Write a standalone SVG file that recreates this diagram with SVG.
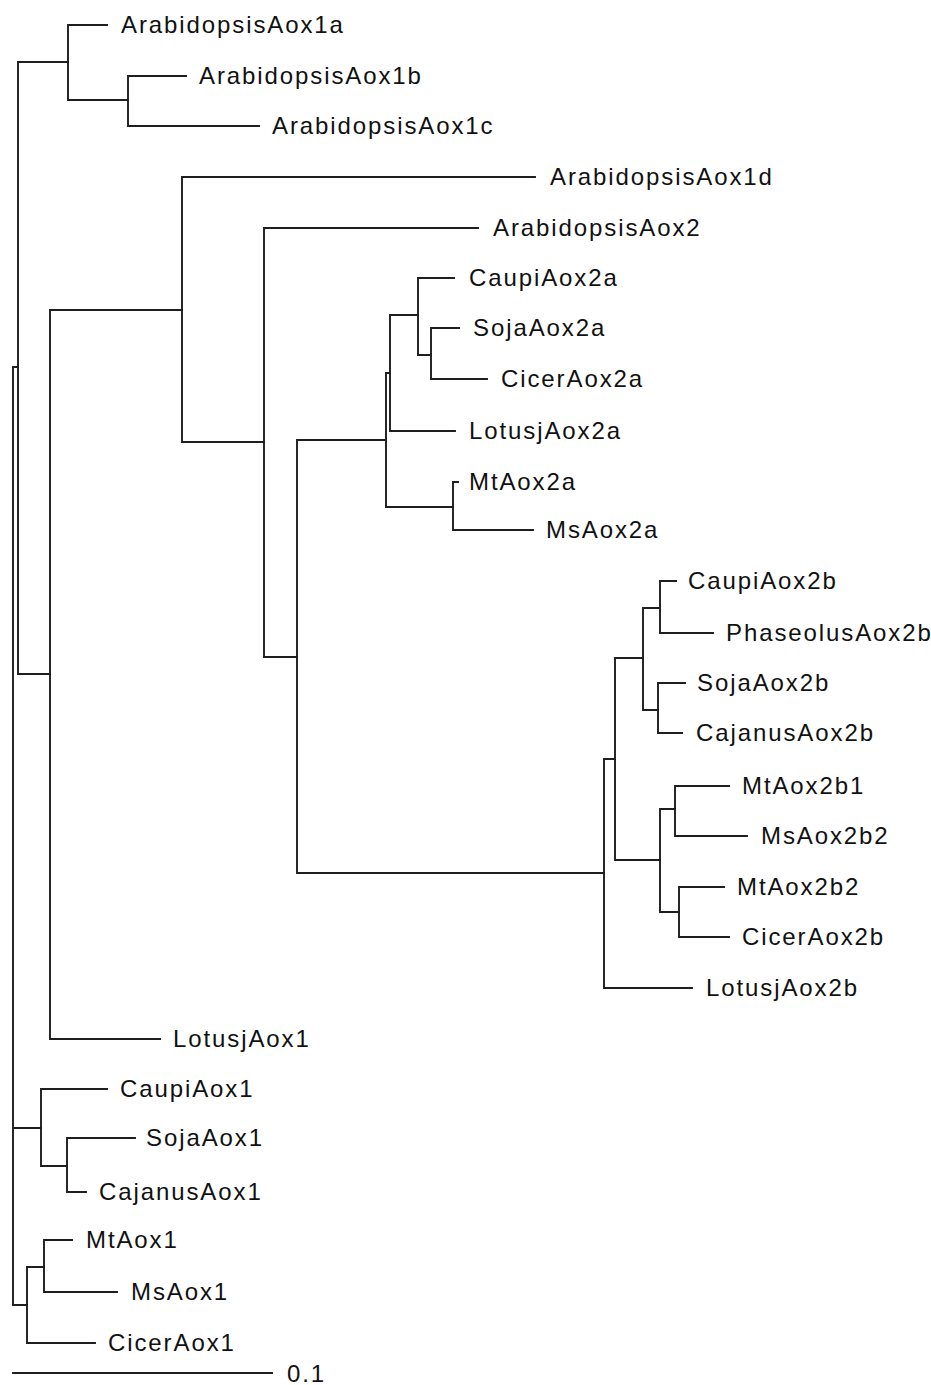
<svg xmlns="http://www.w3.org/2000/svg" width="931" height="1385" viewBox="0 0 931 1385">
<style>
.br{fill:none;stroke:#1e1e1e;stroke-width:1.9;stroke-linecap:square}
.lb{font-family:"Liberation Sans",Arial,sans-serif;font-size:24px;letter-spacing:1.9px;fill:#111}
</style>
<rect width="931" height="1385" fill="#fff"/>
<g id="connectors">
<path class="br" d="M13 367 V1305 M13 367 H18 M13 1128 H41 M13 1305 H27"/>
<path class="br" d="M18 62 V674 M18 62 H68 M18 674 H50"/>
<path class="br" d="M68 25 V100 M68 25 H107 M68 100 H128"/>
<path class="br" d="M128 76 V126 M128 76 H186 M128 126 H259"/>
<path class="br" d="M50 310 V1039 M50 310 H182 M50 1039 H160"/>
<path class="br" d="M182 177 V442 M182 177 H535 M182 442 H264"/>
<path class="br" d="M264 228 V657 M264 228 H478 M264 657 H297"/>
<path class="br" d="M297 440 V873 M297 440 H386 M297 873 H604"/>
<path class="br" d="M386 373 V507 M386 373 H390 M386 507 H453"/>
<path class="br" d="M390 315 V431 M390 315 H418 M390 431 H455"/>
<path class="br" d="M418 278 V355 M418 278 H454 M418 355 H431"/>
<path class="br" d="M431 328 V379 M431 328 H459 M431 379 H487"/>
<path class="br" d="M453 482 V530 M453 482 H458 M453 530 H533"/>
<path class="br" d="M604 759 V988 M604 759 H615 M604 988 H692"/>
<path class="br" d="M615 658 V860 M615 658 H643 M615 860 H660"/>
<path class="br" d="M643 608 V710 M643 608 H660 M643 710 H658"/>
<path class="br" d="M660 581 V633 M660 581 H676 M660 633 H713"/>
<path class="br" d="M658 683 V733 M658 683 H685 M658 733 H682"/>
<path class="br" d="M660 809 V912 M660 809 H675 M660 912 H679"/>
<path class="br" d="M675 786 V836 M675 786 H729 M675 836 H747"/>
<path class="br" d="M679 887 V937 M679 887 H724 M679 937 H729"/>
<path class="br" d="M41 1089 V1166 M41 1089 H107 M41 1166 H67"/>
<path class="br" d="M67 1138 V1192 M67 1138 H135 M67 1192 H86"/>
<path class="br" d="M27 1267 V1343 M27 1267 H44 M27 1343 H95"/>
<path class="br" d="M44 1240 V1292 M44 1240 H72 M44 1292 H117"/>
</g>
<g id="scale-bar">
<path class="br" d="M13 1373 H272"/>
<text class="lb" x="287" y="1382">0.1</text>
</g>
<g id="ArabidopsisAox1a"><text class="lb" x="121" y="33">ArabidopsisAox1a</text></g>
<g id="ArabidopsisAox1b"><text class="lb" x="199" y="84">ArabidopsisAox1b</text></g>
<g id="ArabidopsisAox1c"><text class="lb" x="272" y="134">ArabidopsisAox1c</text></g>
<g id="ArabidopsisAox1d"><text class="lb" x="550" y="185">ArabidopsisAox1d</text></g>
<g id="ArabidopsisAox2"><text class="lb" x="493" y="236">ArabidopsisAox2</text></g>
<g id="CaupiAox2a"><text class="lb" x="469" y="286">CaupiAox2a</text></g>
<g id="SojaAox2a"><text class="lb" x="473" y="336">SojaAox2a</text></g>
<g id="CicerAox2a"><text class="lb" x="501" y="387">CicerAox2a</text></g>
<g id="LotusjAox2a"><text class="lb" x="469" y="439">LotusjAox2a</text></g>
<g id="MtAox2a"><text class="lb" x="469" y="490">MtAox2a</text></g>
<g id="MsAox2a"><text class="lb" x="546" y="538">MsAox2a</text></g>
<g id="CaupiAox2b"><text class="lb" x="688" y="589">CaupiAox2b</text></g>
<g id="PhaseolusAox2b"><text class="lb" x="726" y="641">PhaseolusAox2b</text></g>
<g id="SojaAox2b"><text class="lb" x="697" y="691">SojaAox2b</text></g>
<g id="CajanusAox2b"><text class="lb" x="696" y="741">CajanusAox2b</text></g>
<g id="MtAox2b1"><text class="lb" x="742" y="794">MtAox2b1</text></g>
<g id="MsAox2b2"><text class="lb" x="761" y="844">MsAox2b2</text></g>
<g id="MtAox2b2"><text class="lb" x="737" y="895">MtAox2b2</text></g>
<g id="CicerAox2b"><text class="lb" x="742" y="945">CicerAox2b</text></g>
<g id="LotusjAox2b"><text class="lb" x="706" y="996">LotusjAox2b</text></g>
<g id="LotusjAox1"><text class="lb" x="173" y="1047">LotusjAox1</text></g>
<g id="CaupiAox1"><text class="lb" x="120" y="1097">CaupiAox1</text></g>
<g id="SojaAox1"><text class="lb" x="146" y="1146">SojaAox1</text></g>
<g id="CajanusAox1"><text class="lb" x="99" y="1200">CajanusAox1</text></g>
<g id="MtAox1"><text class="lb" x="86" y="1248">MtAox1</text></g>
<g id="MsAox1"><text class="lb" x="131" y="1300">MsAox1</text></g>
<g id="CicerAox1"><text class="lb" x="108" y="1351">CicerAox1</text></g>
</svg>
